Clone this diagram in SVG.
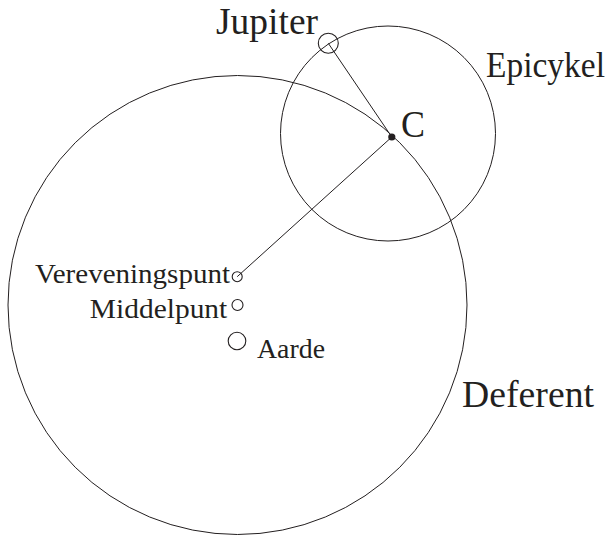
<svg xmlns="http://www.w3.org/2000/svg" width="615" height="535" viewBox="0 0 615 535">
<style>
.orbit{fill:none;stroke:#231f20;stroke-width:1}
.pt{fill:none;stroke:#231f20;stroke-width:1.1}
.ln{stroke:#231f20;stroke-width:1}
.big{font-family:"Liberation Serif","Times New Roman",serif;font-size:37px;fill:#231f20}
.small{font-family:"Liberation Serif","Times New Roman",serif;font-size:26.5px;fill:#231f20}
</style>
<rect width="615" height="535" fill="#ffffff"/>
<g id="deferent">
<circle class="orbit" cx="237.5" cy="305" r="229.5"/>
<text class="big" x="462" y="407" textLength="132" lengthAdjust="spacingAndGlyphs">Deferent</text>
</g>
<g id="epicykel">
<circle class="orbit" cx="388" cy="133.5" r="107.5"/>
<text class="big" x="486" y="76.7" textLength="119" lengthAdjust="spacingAndGlyphs" style="font-size:36px">Epicykel</text>
</g>
<g id="connectors">
<line class="ln" x1="237.2" y1="276.7" x2="391.8" y2="137"/>
<line class="ln" x1="328.3" y1="43.3" x2="391.8" y2="137"/>
</g>
<g id="jupiter">
<circle class="pt" cx="328.3" cy="43.3" r="10"/>
<text class="big" x="216" y="34.3" textLength="102" lengthAdjust="spacingAndGlyphs">Jupiter</text>
</g>
<g id="c">
<circle cx="391.8" cy="137" r="3.6" fill="#231f20"/>
<text class="big" x="401" y="136.8" textLength="24" lengthAdjust="spacingAndGlyphs">C</text>
</g>
<g id="vereveningspunt">
<circle class="pt" cx="237.2" cy="276.7" r="5" fill="#fff"/>
<text class="small" x="35" y="282.8" textLength="195" lengthAdjust="spacingAndGlyphs">Vereveningspunt</text>
</g>
<g id="middelpunt">
<circle class="pt" cx="237.5" cy="305" r="5.5"/>
<text class="small" x="89.8" y="318.3" textLength="137.5" lengthAdjust="spacingAndGlyphs">Middelpunt</text>
</g>
<g id="aarde">
<circle class="pt" cx="237" cy="341" r="8.8"/>
<text class="small" x="257" y="358.3" textLength="68" lengthAdjust="spacingAndGlyphs">Aarde</text>
</g>
</svg>
